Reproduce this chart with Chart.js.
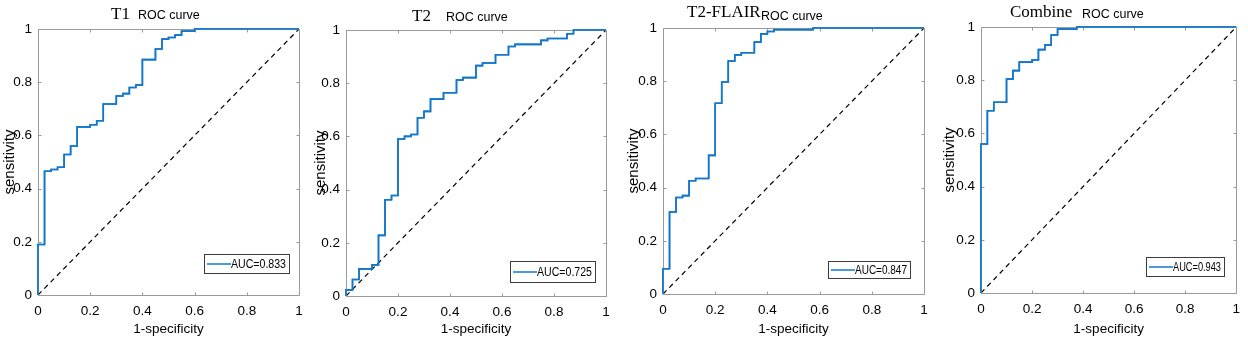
<!DOCTYPE html><html lang="en">
<head>
  <meta charset="UTF-8"/>
  <title>ROC curves</title>
  <script src="https://cdn.jsdelivr.net/npm/chart.js"></script>
  <style>
    *{box-sizing:border-box;margin:0;padding:0}
    body{background:#fff;width:1248px;height:343px;overflow:hidden;position:relative}
    canvas{position:absolute;top:0}
  </style>
</head>
<body>
  <canvas id="c0" width="312" height="343" style="left:0px"></canvas>
  <canvas id="c1" width="312" height="343" style="left:312px"></canvas>
  <canvas id="c2" width="312" height="343" style="left:624px"></canvas>
  <canvas id="c3" width="312" height="343" style="left:936px"></canvas>
  <script>
    // values (1-specificity / sensitivity at each step)
    const modalities=['T1','T2','T2-FLAIR','Combine'];
    const aucLabels=['AUC=0.833','AUC=0.725','AUC=0.847','AUC=0.943'];
    const axisTicks=[0,0.2,0.4,0.6,0.8,1];

    const fprT1=[0,0,0.025,0.05,0.075,0.1,0.125,0.15,0.2,0.225,0.25,0.3,0.325,0.35,0.375,0.4,0.45,0.475,0.5,0.525,0.55,0.6,1];
    const tprT1=[0,0.19,0.465,0.472,0.48,0.528,0.56,0.632,0.64,0.655,0.718,0.748,0.757,0.78,0.79,0.885,0.925,0.962,0.968,0.977,0.992,1,1];

    const fprT2=[0,0,0.025,0.05,0.1,0.125,0.15,0.175,0.2,0.225,0.25,0.275,0.3,0.325,0.375,0.425,0.45,0.5,0.525,0.575,0.625,0.65,0.75,0.775,0.85,0.875,1];
    const tprT2=[0,0.023,0.062,0.102,0.117,0.228,0.362,0.378,0.59,0.6,0.607,0.67,0.694,0.74,0.764,0.812,0.821,0.866,0.876,0.907,0.938,0.946,0.961,0.968,0.986,1,1];

    const fprFlair=[0,0,0.025,0.05,0.075,0.1,0.125,0.175,0.2,0.225,0.25,0.275,0.3,0.35,0.375,0.4,0.425,0.575,1];
    const tprFlair=[0,0.095,0.308,0.363,0.37,0.426,0.434,0.521,0.717,0.797,0.876,0.899,0.907,0.947,0.978,0.987,0.994,1,1];

    const fprComb=[0,0,0.025,0.05,0.1,0.125,0.15,0.2,0.225,0.25,0.275,0.3,0.375,1];
    const tprComb=[0,0.56,0.685,0.717,0.804,0.836,0.868,0.876,0.915,0.932,0.97,0.992,1,1];

    const chanceX=[0,1], chanceY=[0,1];

    const curves=[[fprT1,tprT1],[fprT2,tprT2],[fprFlair,tprFlair],[fprComb,tprComb]];

    // per panel layout (plot box inside each 312px canvas, title and legend placement)
    const panels=[
      {yw:38,right:13,top:29,xh:48,nameX:111,rocX:138,nameY:15,rocY:16,ytPad:1,lgR:10,lgB:22,lgW:85,lgH:19},
      {yw:34,right:18,top:30,xh:47,nameX:100,rocX:134,nameY:17,rocY:18,ytPad:0,lgR:11,lgB:14,lgW:85,lgH:21},
      {yw:39,right:12,top:28,xh:49,nameX:63,rocX:137,nameY:13,rocY:17,ytPad:1,lgR:14,lgB:16,lgW:82,lgH:17},
      {yw:45,right:6,top:27,xh:50,nameX:74,rocX:146,nameY:13,rocY:15,ytPad:5,lgR:12,lgB:17,lgW:78,lgH:19}
    ];

    const BLUE='#1577C9', FRAME='#9a9a9a';
    const sans="'Liberation Sans', Arial, sans-serif";

    // frame, inward ticks, title and boxed legend (MATLAB look)
    const matlabLook={
      id:'matlabLook',
      afterDraw(chart,args,opts){
        const ctx=chart.ctx, a=chart.chartArea, xs=chart.scales.x, ys=chart.scales.y;
        const L=Math.round(a.left)+0.5, R=Math.round(a.right)+0.5, T=Math.round(a.top)+0.5, B=Math.round(a.bottom)+0.5;
        ctx.save();
        ctx.strokeStyle=FRAME;ctx.lineWidth=1;ctx.setLineDash([]);
        ctx.beginPath();
        ctx.moveTo(L,T);ctx.lineTo(R,T);ctx.lineTo(R,B);ctx.lineTo(L,B);ctx.closePath();
        axisTicks.forEach(v=>{
          const px=Math.round(xs.getPixelForValue(v))+0.5, py=Math.round(ys.getPixelForValue(v))+0.5;
          ctx.moveTo(px,B);ctx.lineTo(px,B-3);
          ctx.moveTo(px,T);ctx.lineTo(px,T+3);
          ctx.moveTo(L,py);ctx.lineTo(L+3,py);
          ctx.moveTo(R,py);ctx.lineTo(R-3,py);
        });
        ctx.stroke();
        // redraw the curve over the frame so edge segments stay blue
        chart.getDatasetMeta(0).dataset.draw(ctx);
        // title
        const p=opts.panel;
        ctx.fillStyle='#000';ctx.textBaseline='middle';ctx.textAlign='left';
        ctx.font="17px 'Liberation Serif', 'Times New Roman', serif";
        ctx.fillText(opts.name,p.nameX,p.nameY);
        ctx.font='12.5px '+sans;
        ctx.fillText('ROC curve',p.rocX,p.rocY);
        // legend
        const w=p.lgW,h=p.lgH,bx=Math.round(a.right)-p.lgR-w,by=Math.round(a.bottom)-p.lgB-h;
        ctx.fillStyle='#fff';ctx.fillRect(bx,by,w,h);
        ctx.strokeStyle='#3c3c3c';ctx.lineWidth=1;ctx.strokeRect(bx+0.5,by+0.5,w,h);
        ctx.strokeStyle=BLUE;ctx.lineWidth=1.5;
        ctx.beginPath();ctx.moveTo(bx+3,by+h/2+0.5);ctx.lineTo(bx+27,by+h/2+0.5);ctx.stroke();
        ctx.fillStyle='#000';ctx.font='12.5px '+sans;
        ctx.fillText(opts.label,bx+27,by+h/2+1,w-30);
        ctx.restore();
      }
    };

    function toPoints(xs,ys){return xs.map((x,i)=>({x,y:ys[i]}));}
    const fmt=v=>String(+(+v).toFixed(1));

    modalities.forEach((name,i)=>{
      const p=panels[i];
      new Chart(document.getElementById('c'+i),{
        type:'line',
        data:{datasets:[
          {data:toPoints(curves[i][0],curves[i][1]),borderColor:BLUE,borderWidth:1.6,pointRadius:0,stepped:'before',fill:false,clip:false},
          {data:toPoints(chanceX,chanceY),borderColor:'#000',borderWidth:1.2,borderDash:[5,4],pointRadius:0,fill:false,clip:false}
        ]},
        options:{
          responsive:false,animation:false,devicePixelRatio:1,
          layout:{padding:{top:p.top,right:p.right,left:0,bottom:0}},
          plugins:{legend:{display:false},tooltip:{enabled:false},matlabLook:{name,label:aucLabels[i],panel:p}},
          scales:{
            x:{type:'linear',min:0,max:1,
              afterFit(s){s.height=p.xh;},
              afterBuildTicks(s){s.ticks=axisTicks.map(v=>({value:v}));},
              grid:{display:false,drawTicks:false},border:{display:false},
              ticks:{color:'#000',padding:8,maxRotation:0,callback:fmt,font:{family:sans,size:13.5}},
              title:{display:true,text:'1-specificity',color:'#000',padding:{top:0,bottom:6},font:{family:sans,size:13.5}}},
            y:{type:'linear',min:0,max:1,
              afterFit(s){s.width=p.yw;},
              afterBuildTicks(s){s.ticks=axisTicks.map(v=>({value:v}));},
              grid:{display:false,drawTicks:false},border:{display:false},
              ticks:{color:'#000',padding:6,callback:fmt,font:{family:sans,size:13.5}},
              title:{display:true,text:'sensitivity',color:'#000',padding:{top:p.ytPad,bottom:0},font:{family:sans,size:15}}}
          }
        },
        plugins:[matlabLook]
      });
    });
  </script>
</body>
</html>
